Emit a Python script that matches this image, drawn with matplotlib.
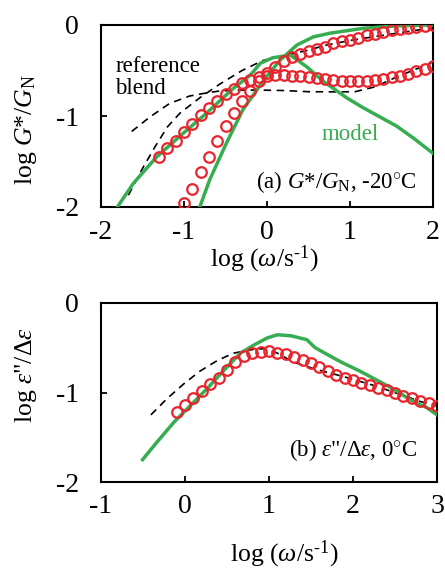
#import matplotlib.pyplot for the graph
import matplotlib
matplotlib.use("Agg")
import matplotlib.pyplot as plt
#import numpy for the arrays
import numpy as np

#fonts (Times-like serif) and hyphen for negative ticks
plt.rcParams['font.family'] = ['Liberation Serif', 'DejaVu Serif']
plt.rcParams['mathtext.fontset'] = 'custom'
plt.rcParams['mathtext.rm'] = 'Liberation Serif'
plt.rcParams['mathtext.it'] = 'Liberation Serif:italic'
plt.rcParams['axes.unicode_minus'] = False

#---------------- data, panel (a) G*/GN at -20C ----------------
a_gp_x = np.round(np.arange(-1.0, 2.01, 0.1), 2)
a_gp_y = [-1.96, -1.80, -1.62, -1.45, -1.28, -1.11, -0.97, -0.84, -0.73, -0.62,
          -0.53, -0.46, -0.40, -0.355, -0.315, -0.285, -0.26, -0.24, -0.20, -0.18,
          -0.16, -0.14, -0.115, -0.095, -0.075, -0.06, -0.045, -0.03, -0.02, -0.01,
          -0.005]
a_gpp_x = np.round(np.arange(-1.3, 2.01, 0.1), 2)
a_gpp_y = [-1.45, -1.35, -1.27, -1.18, -1.09, -0.99, -0.91, -0.83, -0.76, -0.70,
           -0.64, -0.60, -0.57, -0.555, -0.55, -0.55, -0.555, -0.565, -0.575, -0.585,
           -0.595, -0.605, -0.61, -0.615, -0.615, -0.61, -0.60, -0.59, -0.575, -0.555,
           -0.535, -0.51, -0.485, -0.45]
#model curves
a_mod_gp_x = [-0.83, -0.69, -0.49, -0.29, -0.12, 0.0, 0.16, 0.36, 0.56, 0.76, 1.16, 1.56, 2.0]
a_mod_gp_y = [-2.05, -1.70, -1.30, -0.93, -0.71, -0.56, -0.385, -0.22, -0.13, -0.09, -0.036, -0.01, 0.0]
a_mod_gpp_x = [-1.84, -1.61, -1.33, -1.01, -0.73, -0.41, -0.20, -0.08, 0.07, 0.28, 0.48,
               0.68, 0.96, 1.16, 1.36, 1.56, 1.76, 2.0]
a_mod_gpp_y = [-2.05, -1.74, -1.45, -1.19, -0.97, -0.70, -0.55, -0.42, -0.36, -0.33, -0.46,
               -0.62, -0.80, -0.91, -1.01, -1.11, -1.24, -1.41]
#reference blend curves
a_ref_gp_x = [-1.67, -1.49, -1.35, -1.2, -1.05, -0.81, -0.57, -0.3, -0.05, 0.2, 0.48,
              0.72, 1.0, 1.42, 1.82, 2.0]
a_ref_gp_y = [-1.87, -1.56, -1.34, -1.12, -0.97, -0.80, -0.65, -0.50, -0.39, -0.34, -0.28,
              -0.22, -0.17, -0.11, -0.055, -0.04]
a_ref_gpp_x = [-1.63, -1.41, -1.17, -0.93, -0.75, -0.57, -0.33, -0.1, 0.2, 0.5, 0.82,
               1.06, 1.30, 1.54, 1.78, 1.98]
a_ref_gpp_y = [-1.17, -1.01, -0.86, -0.78, -0.75, -0.725, -0.715, -0.715, -0.72, -0.733, -0.735,
               -0.733, -0.68, -0.58, -0.49, -0.42]

#---------------- data, panel (b) eps''/d eps at 0C ----------------
b_x = np.round(np.arange(-0.1, 3.01, 0.1), 2)
b_y = [-1.215, -1.14, -1.06, -0.98, -0.91, -0.84, -0.75, -0.66, -0.59, -0.56,
       -0.55, -0.54, -0.555, -0.575, -0.60, -0.635, -0.67, -0.72, -0.76, -0.80,
       -0.835, -0.865, -0.89, -0.915, -0.945, -0.975, -1.005, -1.035, -1.06, -1.09,
       -1.12, -1.15]
b_mod_x = [-0.505, -0.33, -0.13, 0.07, 0.27, 0.465, 0.66, 0.82, 0.98, 1.10, 1.26, 1.45,
           1.55, 1.77, 1.88, 2.08, 2.28, 2.48, 2.68, 2.88, 3.0]
b_mod_y = [-1.75, -1.55, -1.33, -1.14, -0.95, -0.75, -0.56, -0.47, -0.39, -0.355, -0.366, -0.41,
           -0.50, -0.615, -0.67, -0.76, -0.86, -0.96, -1.08, -1.17, -1.25]
b_ref_x = [-0.406, -0.21, -0.01, 0.18, 0.39, 0.58, 0.8, 0.95, 1.1, 1.29, 1.57, 1.88, 2.28, 2.8, 3.0]
b_ref_y = [-1.25, -1.065, -0.90, -0.76, -0.64, -0.56, -0.52, -0.51, -0.56, -0.66, -0.745,
           -0.82, -0.93, -1.10, -1.15]

#styles
green = '#36ad50'
red = '#e8242c'
mk = dict(marker='o', ls='none', ms=7.6, mew=1.6, mfc='none', mec=red, zorder=4)
dash = dict(color='black', lw=1.2, dashes=(4.5, 3.3), zorder=2)
mod = dict(color=green, lw=2.5, zorder=3)

#figure and the two panels
fig = plt.figure(figsize=(4.45, 5.7), dpi=100)
ax1 = fig.add_axes([101/445, 1-207/570, 332/445, 182/570])
ax2 = fig.add_axes([101/445, 1-482/570, 336/445, 179/570])

#panel (a)
ax1.plot(a_ref_gp_x, a_ref_gp_y, **dash)
ax1.plot(a_ref_gpp_x, a_ref_gpp_y, **dash)
ax1.plot(a_mod_gp_x, a_mod_gp_y, **mod)
ax1.plot(a_mod_gpp_x, a_mod_gpp_y, **mod)
ax1.plot(a_gp_x, a_gp_y, **mk)
ax1.plot(a_gpp_x, a_gpp_y, **mk)
ax1.set_xlim(-2, 2)
ax1.set_ylim(-2, 0)
ax1.set_xticks([-2, -1, 0, 1, 2])
ax1.set_yticks([-2, -1, 0])
ax1.text(-1.83, -0.513, 'reference', fontsize=16.5, va='baseline')
ax1.text(-1.83, -0.758, 'blend', fontsize=16.5, va='baseline')
ax1.text(0.663, -1.264, 'model', fontsize=16.5, color=green, va='baseline')
ax1.text(1.80, -1.795, r'(a) $G$*/$G_{\rm N}$, -20$^{\circ}$C', fontsize=16.5,
         ha='right', va='baseline')

#panel (b)
ax2.plot(b_ref_x, b_ref_y, **dash)
ax2.plot(b_mod_x, b_mod_y, **mod)
ax2.plot(b_x, b_y, **mk)
ax2.set_xlim(-1, 3)
ax2.set_ylim(-2, 0)
ax2.set_xticks([-1, 0, 1, 2, 3])
ax2.set_yticks([-2, -1, 0])
ax2.text(2.76, -1.714, r'(b) $\varepsilon$"/$\Delta\varepsilon$, 0$^{\circ}$C', fontsize=16.5,
         ha='right', va='baseline')

#common axis look
for ax in (ax1, ax2):
    for s in ax.spines.values():
        s.set_linewidth(1.5)
    ax.tick_params(direction='in', length=4.5, width=1.3, labelsize=20)
    ax.tick_params(axis='y', pad=16)
ax1.tick_params(axis='x', pad=9.5)
ax2.tick_params(axis='x', pad=8.5)

#axis labels as figure text
xlab = r'log ($\omega$/s$^{\text{-1}}$)'
fig.text(264/445, 1-266.7/570, xlab, fontsize=18.5, ha='center', va='baseline')
fig.text(284/445, 1-561/570, xlab, fontsize=18.5, ha='center', va='baseline')
fig.text(26/445, 1-129/570, r'log $G$*/$G_{\rm N}$', fontsize=18.5, rotation=90, ha='center', va='center')
fig.text(26/445, 1-375/570, r'log $\varepsilon$"/$\Delta\varepsilon$', fontsize=18.5, rotation=90, ha='center', va='center')

#save the graph
fig.savefig('out.png', dpi=100)
